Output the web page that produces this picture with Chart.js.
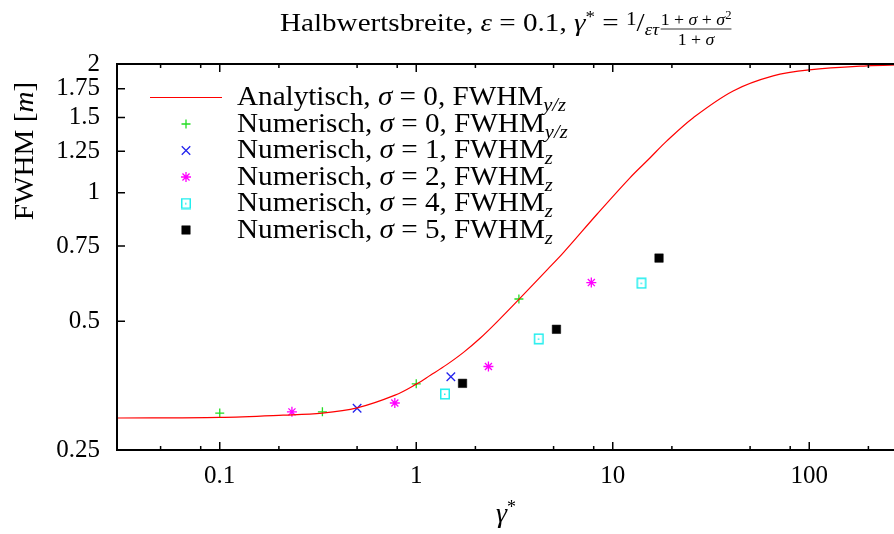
<!DOCTYPE html>
<html>
<head>
<meta charset="utf-8">
<script src="https://cdn.jsdelivr.net/npm/chart.js@4.4.0/dist/chart.umd.min.js"></script>
<style>
  html, body { margin: 0; padding: 0; background: #fff; overflow: hidden; }
  #wrap { width: 920px; height: 534px; }
</style>
</head>
<body>
<div id="wrap"><canvas id="c" width="920" height="534"></canvas></div>
<script>
const SERIF = '"Liberation Serif", "DejaVu Serif", serif';

// analytic curve (gamma*, FWHM)
const curveGamma = [0.03, 0.1, 0.21, 0.333, 0.5, 0.78, 1.0, 1.18, 1.43, 1.74, 2.12, 2.57, 3.34,
  4.62, 5.61, 8.29, 12.2, 15.5, 18.8, 25.7, 41.0, 65.5, 100, 196, 300];
const curveFwhm = [0.297, 0.298, 0.3016, 0.305, 0.3137, 0.336, 0.3565, 0.374, 0.396, 0.423, 0.457, 0.498, 0.5635,
  0.659, 0.724, 0.889, 1.082, 1.207, 1.32, 1.498, 1.73, 1.876, 1.937, 1.98, 1.992];

// numerical runs
const sigma0Gamma = [0.1, 0.333, 1, 3.33];
const sigma0Fwhm = [0.305, 0.307, 0.357, 0.564];
const sigma1Gamma = [0.5, 1.5];
const sigma1Fwhm = [0.313, 0.371];
const sigma2Gamma = [0.233, 0.778, 2.33, 7.78];
const sigma2Fwhm = [0.307, 0.322, 0.392, 0.616];
const sigma4Gamma = [1.4, 4.2, 14];
const sigma4Fwhm = [0.338, 0.455, 0.614];
const sigma5Gamma = [1.72, 5.17, 17.2];
const sigma5Fwhm = [0.358, 0.479, 0.703];

const xMajor = [0.1, 1, 10, 100];
const xTickLabels = ['0.1', '1', '10', '100'];
const xMinor = [0.05, 0.08, 0.2, 0.5, 0.8, 2, 5, 8, 20, 50, 80, 200];
const yTicks = [0.25, 0.5, 0.75, 1, 1.25, 1.5, 1.75, 2];
const yTickLabels = ['0.25', '0.5', '0.75', '1', '1.25', '1.5', '1.75', '2'];

const pts = (xs, ys) => xs.map((x, i) => ({ x: x, y: ys[i] }));

// gnuplot style open square with a dot in the middle
function openSquare(color) {
  const c = document.createElement('canvas');
  c.width = 12; c.height = 12;
  const g = c.getContext('2d');
  g.strokeStyle = color;
  g.lineWidth = 1.5;
  g.strokeRect(1.75, 1.25, 8.5, 9.5);
  g.fillStyle = color;
  g.fillRect(5, 5.5, 1.5, 1.5);
  return c;
}

// parts: [text, size, italic, dy]
function measure(ctx, parts, sx) {
  let w = 0;
  parts.forEach(p => {
    ctx.font = (p[2] ? 'italic ' : '') + p[1] + 'px ' + SERIF;
    p.w = ctx.measureText(p[0]).width * (sx || 1);
    w += p.w;
  });
  return w;
}
function drawRich(ctx, parts, x, y, sx) {
  sx = sx || 1;
  let cx = x;
  measure(ctx, parts, sx);
  parts.forEach(p => {
    ctx.font = (p[2] ? 'italic ' : '') + p[1] + 'px ' + SERIF;
    ctx.save();
    ctx.translate(cx, y + (p[3] || 0));
    ctx.scale(sx, 1);
    ctx.fillText(p[0], 0, 0);
    ctx.restore();
    cx += p.w;
  });
  return cx;
}

const decor = {
  id: 'decor',
  afterDraw(chart) {
    const { ctx, chartArea: a, scales: { x, y } } = chart;
    ctx.save();

    // inward ticks, mirrored on all sides
    ctx.strokeStyle = '#000';
    ctx.lineWidth = 1.5;
    ctx.beginPath();
    const xt = (v, len) => {
      const px = x.getPixelForValue(v);
      ctx.moveTo(px, a.bottom); ctx.lineTo(px, a.bottom - len);
      ctx.moveTo(px, a.top); ctx.lineTo(px, a.top + len);
    };
    xMajor.forEach(v => xt(v, 8));
    xMinor.forEach(v => xt(v, 4));
    yTicks.forEach(v => {
      const py = y.getPixelForValue(v);
      ctx.moveTo(a.left, py); ctx.lineTo(a.left + 8, py);
      ctx.moveTo(a.right, py); ctx.lineTo(a.right - 8, py);
    });
    ctx.stroke();
    ctx.lineWidth = 2;
    ctx.strokeRect(a.left, a.top, a.right - a.left, a.bottom - a.top);

    ctx.fillStyle = '#000';
    ctx.textBaseline = 'alphabetic';
    ctx.textAlign = 'left';

    // legend
    const SX = 1.08;
    chart.data.datasets.forEach((ds, i) => {
      const yy = 97.5 + i * 26.5;
      if (ds.showLine) {
        ctx.strokeStyle = ds.borderColor;
        ctx.lineWidth = ds.borderWidth;
        ctx.beginPath(); ctx.moveTo(150, yy); ctx.lineTo(222, yy); ctx.stroke();
      } else {
        ctx.strokeStyle = ds.borderColor;
        ctx.fillStyle = ds.backgroundColor || ds.borderColor;
        ctx.lineWidth = ds.borderWidth;
        Chart.helpers.drawPoint(ctx, { pointStyle: ds.pointStyle, radius: ds.pointRadius, borderWidth: ds.borderWidth, rotation: 0 }, 186, yy);
      }
      ctx.fillStyle = '#000';
      drawRich(ctx, [[ds.label + ', ', 27], ['σ', 27, 1], [' = ' + ds.sigma + ', FWHM', 27], [ds.sub, 19, 1, 6]], 237, yy + 7.5, SX);
    });

    // title
    const T = 26, S = 17;
    const head = [['Halbwertsbreite, ', T], ['ε', T, 1], [' = 0.1, ', T], ['γ', T, 1], ['*', 17, 0, -9], [' = ', T],
      ['1', 19, 0, -6], ['/', T], ['ετ', S, 1, 4], [' ', 6]];
    const num = [['1 + ', S], ['σ', S, 1], [' + ', S], ['σ', S, 1], ['2', 12, 0, -6]];
    const den = [['1 + ', S], ['σ', S, 1]];
    const hw = measure(ctx, head, 1.12), nw = measure(ctx, num, 1.05), dw = measure(ctx, den, 1.05);
    const fw = Math.max(nw, dw);
    const tx = 280;
    const fx = drawRich(ctx, head, tx, 31, 1.12);
    drawRich(ctx, num, fx + (fw - nw) / 2, 25, 1.05);
    drawRich(ctx, den, fx + (fw - dw) / 2, 45, 1.05);
    ctx.lineWidth = 0.8;
    ctx.strokeStyle = '#000';
    ctx.beginPath(); ctx.moveTo(fx, 29); ctx.lineTo(fx + fw, 29); ctx.stroke();

    // x axis title
    drawRich(ctx, [['γ', 28, 1], ['*', 18, 0, -9]], 496, 522);

    // y axis title
    ctx.save();
    ctx.translate(33, 151);
    ctx.rotate(-Math.PI / 2);
    const yl = [['FWHM [', 28], ['m', 28, 1], [']', 28]];
    drawRich(ctx, yl, -measure(ctx, yl, 1.04) / 2, 0, 1.04);
    ctx.restore();

    ctx.restore();
  }
};

new Chart(document.getElementById('c'), {
  type: 'scatter',
  data: {
    datasets: [
      { label: 'Analytisch', sigma: '0', sub: 'y/z', data: pts(curveGamma, curveFwhm), showLine: true,
        borderColor: '#ff0000', borderWidth: 1.2, pointRadius: 0, tension: 0.35 },
      { label: 'Numerisch', sigma: '0', sub: 'y/z', data: pts(sigma0Gamma, sigma0Fwhm),
        pointStyle: 'cross', pointRadius: 4.5, borderColor: '#22dd22', borderWidth: 1.3 },
      { label: 'Numerisch', sigma: '1', sub: 'z', data: pts(sigma1Gamma, sigma1Fwhm),
        pointStyle: 'crossRot', pointRadius: 6, borderColor: '#2222ee', borderWidth: 1.3 },
      { label: 'Numerisch', sigma: '2', sub: 'z', data: pts(sigma2Gamma, sigma2Fwhm),
        pointStyle: 'star', pointRadius: 5, borderColor: '#ff00ff', borderWidth: 1.3 },
      { label: 'Numerisch', sigma: '4', sub: 'z', data: pts(sigma4Gamma, sigma4Fwhm),
        pointStyle: openSquare('#22eeee'), pointRadius: 6, borderColor: '#22eeee', borderWidth: 1.3 },
      { label: 'Numerisch', sigma: '5', sub: 'z', data: pts(sigma5Gamma, sigma5Fwhm),
        pointStyle: 'rect', pointRadius: 6, borderColor: '#000', backgroundColor: '#000', borderWidth: 0.5 }
    ]
  },
  plugins: [decor],
  options: {
    responsive: false,
    animation: false,
    devicePixelRatio: 1,
    layout: { padding: { left: 0, top: 64, right: 17, bottom: 0 } },
    plugins: { legend: { display: false }, tooltip: { enabled: false } },
    scales: {
      x: {
        type: 'logarithmic', min: 0.03, max: 300,
        grid: { display: false, drawTicks: false }, border: { display: false },
        afterBuildTicks: s => { s.ticks = xMajor.map(v => ({ value: v })); },
        afterFit: s => { s.height = 84; },
        ticks: { autoSkip: false, maxRotation: 0, padding: 11, color: '#000',
          font: { family: SERIF, size: 25 }, callback: v => xTickLabels[xMajor.indexOf(v)] }
      },
      y: {
        type: 'logarithmic', min: 0.25, max: 2,
        grid: { display: false, drawTicks: false }, border: { display: false },
        afterBuildTicks: s => { s.ticks = yTicks.map(v => ({ value: v })); },
        afterFit: s => { s.width = 117; },
        ticks: { autoSkip: false, padding: 17, color: '#000',
          font: { family: SERIF, size: 25 }, callback: v => yTickLabels[yTicks.indexOf(v)] }
      }
    }
  }
});
</script>
</body>
</html>
